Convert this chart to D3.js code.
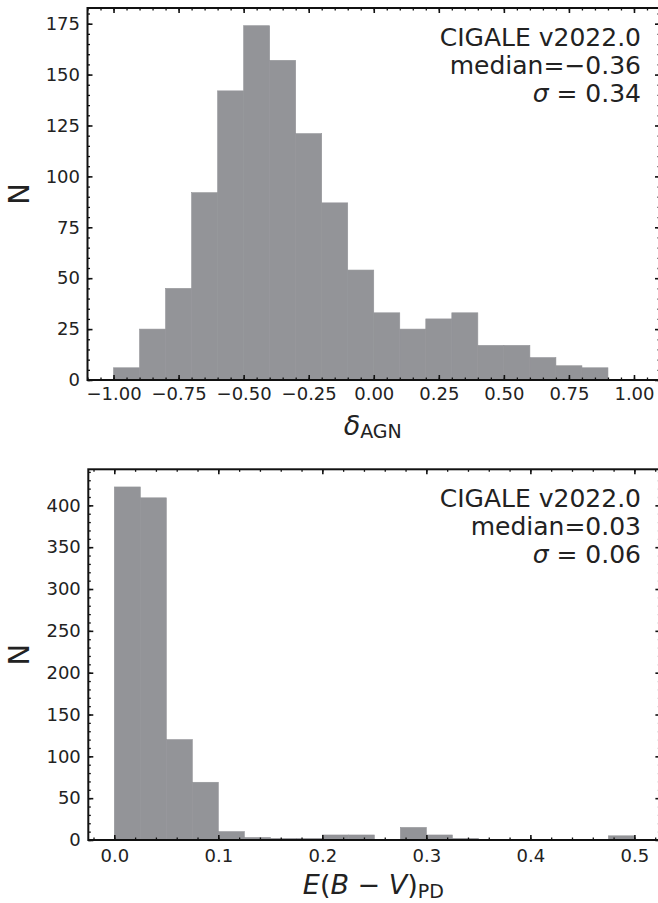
<!DOCTYPE html>
<html lang="en">
<head>
    <meta charset="utf-8">
    <title>CIGALE histograms</title>
    <script src="https://cdn.jsdelivr.net/npm/d3@7"></script>
    <style>
        body { margin: 0; background: #fff; font-family: "DejaVu Sans", sans-serif; }
        .tick text { font-family: "DejaVu Sans", sans-serif; font-size: 18px; fill: #222; }
    </style>
</head>
<body>
<div class="chart"></div>
<script>
// delta_AGN histogram (bin left edges, bin width 0.1)
const deltaBinEdges = [-1.0, -0.9, -0.8, -0.7, -0.6, -0.5, -0.4, -0.3, -0.2, -0.1,
                       0.0, 0.1, 0.2, 0.3, 0.4, 0.5, 0.6, 0.7, 0.8, 0.9];
const deltaCounts = [6, 25, 45, 92, 142, 174, 157, 121, 87, 54,
                     33, 25, 30, 33, 17, 17, 11, 7, 6];
const deltaTicks = [-1.0, -0.75, -0.5, -0.25, 0.0, 0.25, 0.5, 0.75, 1.0];
const deltaText = ["CIGALE v2022.0", "median=\u22120.36", "0.34"];

// E(B-V)_PD histogram (bin left edges, bin width 0.025)
const ebvBinEdges = [0.0, 0.025, 0.05, 0.075, 0.1, 0.125, 0.15, 0.175, 0.2, 0.225,
                     0.25, 0.275, 0.3, 0.325, 0.35, 0.375, 0.4, 0.425, 0.45, 0.475, 0.5];
const ebvCounts = [422, 409, 120, 69, 10, 3, 2, 2, 6, 6,
                   0, 15, 6, 2, 0, 0, 0, 0, 0, 5];
const ebvTicks = [0.0, 0.1, 0.2, 0.3, 0.4, 0.5];
const ebvText = ["CIGALE v2022.0", "median=0.03", "0.06"];

const W = 658, H = 903;
const barColor = "#939498";

const svg = d3.select(".chart").append("svg")
    .attr("width", W).attr("height", H);

function panel(cfg) {
    const x = d3.scaleLinear().domain(cfg.xDomain).range([cfg.left, cfg.right]);
    const y = d3.scaleLinear().domain([0, d3.max(cfg.counts) * 1.05]).range([cfg.bottom, cfg.top]);
    const g = svg.append("g");

    // bars
    const bins = cfg.counts.map((c, i) => ({x0: cfg.edges[i], x1: cfg.edges[i + 1], n: c}));
    g.selectAll("rect.bar")
        .data(bins.filter(d => d.n > 0))
        .enter().append("rect")
        .attr("class", "bar")
        .attr("x", d => x(d.x0))
        .attr("width", d => x(d.x1) - x(d.x0))
        .attr("y", d => y(d.n))
        .attr("height", d => y(0) - y(d.n))
        .attr("fill", barColor)
        .attr("stroke", barColor)
        .attr("stroke-width", 0.6);

    const xMinorTicks = d3.range(Math.ceil(cfg.xDomain[0] / cfg.xMinorStep), Math.floor(cfg.xDomain[1] / cfg.xMinorStep) + 1)
        .map(k => k * cfg.xMinorStep);
    const yMinorTicks = d3.range(0, y.domain()[1], cfg.yMinorStep);

    function axes(sel, axisFn, scale, pad, transform, major, minor, fmt) {
        sel.append("g").attr("transform", transform)
            .call(axisFn(scale).tickValues(minor).tickSize(-2.5).tickFormat(""))
            .call(a => a.select(".domain").remove())
            .call(a => a.selectAll("line").attr("stroke", "#111").attr("stroke-width", 1.3));
        return sel.append("g").attr("transform", transform)
            .call(axisFn(scale).tickValues(major).tickSize(-5).tickPadding(pad)
                .tickFormat(fmt || (() => "")))
            .call(a => a.select(".domain").remove())
            .call(a => a.selectAll("line").attr("stroke", "#111").attr("stroke-width", 1.6));
    }

    const yMajor = d3.range(0, y.domain()[1], cfg.yMajorStep);
    axes(g, d3.axisBottom, x, cfg.xPad, `translate(0,${cfg.bottom})`, cfg.xTicks, xMinorTicks, d3.format(cfg.xFmt));
    axes(g, d3.axisTop, x, 3, `translate(0,${cfg.top})`, cfg.xTicks, xMinorTicks, null);
    axes(g, d3.axisLeft, y, 7.5, `translate(${cfg.left},0)`, yMajor, yMinorTicks, d3.format("d"));
    axes(g, d3.axisRight, y, 3, `translate(${cfg.right},0)`, yMajor, yMinorTicks, null);

    // frame
    g.append("rect")
        .attr("x", cfg.left).attr("y", cfg.top)
        .attr("width", cfg.right - cfg.left).attr("height", cfg.bottom - cfg.top)
        .attr("fill", "none").attr("stroke", "#111").attr("stroke-width", 2);

    // annotation, right aligned
    const ann = g.append("g").attr("font-size", 25).attr("fill", "#222").attr("text-anchor", "end");
    ann.append("text").attr("x", 641).attr("y", cfg.top + 38).text(cfg.text[0]);
    ann.append("text").attr("x", 641).attr("y", cfg.top + 66).text(cfg.text[1]);
    const s = ann.append("text").attr("x", 641).attr("y", cfg.top + 94);
    s.append("tspan").attr("font-style", "italic").text("\u03c3");
    s.append("tspan").text(" = " + cfg.text[2]);

    // y label
    g.append("text")
        .attr("transform", `translate(29,${(cfg.top + cfg.bottom) / 2}) rotate(-90)`)
        .attr("text-anchor", "middle")
        .attr("font-size", 29).attr("fill", "#222")
        .text("N");

    // x label
    const xl = g.append("text")
        .attr("x", (cfg.left + cfg.right) / 2 - 1).attr("y", cfg.bottom + cfg.xLabelDy)
        .attr("text-anchor", "middle").attr("font-size", 27).attr("fill", "#222");
    cfg.xLabel(xl);
}

panel({
    left: 87.5, right: 660, top: 8, bottom: 380,
    xDomain: [-1.1, 1.1], xTicks: deltaTicks, xMinorStep: 0.05, xFmt: ".2f", xPad: 7.5,
    yMajorStep: 25, yMinorStep: 5,
    edges: deltaBinEdges, counts: deltaCounts, text: deltaText,
    xLabelDy: 55,
    xLabel: t => {
        t.append("tspan").attr("font-style", "italic").text("\u03b4");
        t.append("tspan").attr("font-size", 19).attr("dy", 3).text("AGN");
    }
});

panel({
    left: 88.3, right: 660.4, top: 469.3, bottom: 840,
    xDomain: [-0.025, 0.525], xTicks: ebvTicks, xMinorStep: 0.02, xFmt: ".1f", xPad: 9.5,
    yMajorStep: 50, yMinorStep: 10,
    edges: ebvBinEdges, counts: ebvCounts, text: ebvText,
    xLabelDy: 54,
    xLabel: t => {
        t.append("tspan").attr("font-style", "italic").text("E");
        t.append("tspan").text("(");
        t.append("tspan").attr("font-style", "italic").text("B");
        t.append("tspan").text(" \u2212 ");
        t.append("tspan").attr("font-style", "italic").text("V");
        t.append("tspan").text(")");
        t.append("tspan").attr("font-size", 19).attr("dy", 4).text("PD");
    }
});
</script>
</body>
</html>
